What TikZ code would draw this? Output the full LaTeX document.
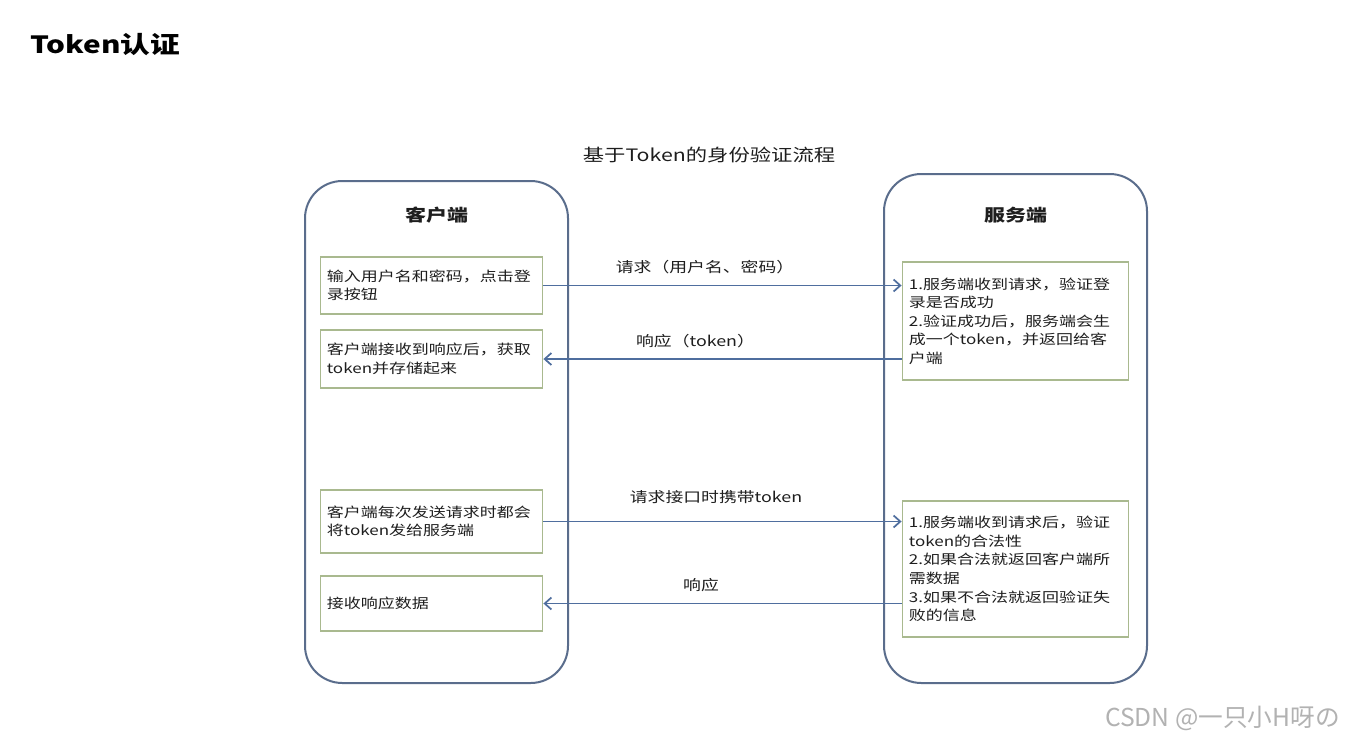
\documentclass[tikz,border=0pt]{standalone}
\usepackage{fontspec}
\setmainfont[FakeStretch=1.25]{Noto Sans CJK SC}
\newfontfamily\wmfont{Noto Sans CJK SC}
\usetikzlibrary{arrows.meta}
\definecolor{frameblue}{HTML}{5A6D8C}
\definecolor{boxgreen}{HTML}{A9B98F}
\definecolor{arrowblue}{HTML}{4F6E9E}
\definecolor{txt}{HTML}{1E1E1E}
\tikzset{
  side/.style={draw=frameblue, line width=1.5pt, rounded corners=28pt},
  stepbox/.style={draw=boxgreen, line width=0.9pt, fill=white, align=left, anchor=center,
    inner sep=5pt, text=txt, font=\fontsize{10.2pt}{13.9pt}\selectfont},
  flow/.style={draw=arrowblue, line width=1.4pt, -{Straight Barb[length=5pt,width=9pt,line width=1.3pt]}},
  flowlabel/.style={text=txt, font=\fontsize{10.7pt}{12pt}\selectfont, inner sep=0pt},
  header/.style={text=txt, font=\fontsize{12.6pt}{14pt}\selectfont\bfseries, inner sep=0pt}
}
\begin{document}
\begin{tikzpicture}[x=0.75pt, y=-0.75pt]
\useasboundingbox[fill=white] (0,0) rectangle (1348,742);

% page title
\node[anchor=west, text=black, inner sep=0pt, font=\fontsize{17.8pt}{20pt}\selectfont\bfseries] (pagetitle) at (30,45) {Token认证};

% diagram title
\node[text=txt, inner sep=0pt, font=\fontsize{12.8pt}{15pt}\selectfont] (dtitle) at (709,155) {基于Token的身份验证流程};

% containers
\draw[side] (305,181) rectangle (568,683);
\draw[side] (884,174) rectangle (1147,683);
\node[header] (clienth) at (436.5,215) {客户端};
\node[header] (serverh) at (1015.5,215) {服务端};

% client boxes
\node[stepbox, minimum width=167pt, minimum height=42.75pt, text width=157pt] (cb1) at (431.5,285.5)
  {输入用户名和密码，点击登\\录按钮};
\node[stepbox, minimum width=167pt, minimum height=43.5pt, text width=157pt] (cb2) at (431.5,359)
  {客户端接收到响应后，获取\\token并存储起来};
\node[stepbox, minimum width=167pt, minimum height=47.25pt, text width=157pt] (cb3) at (431.5,521.5)
  {客户端每次发送请求时都会\\将token发给服务端};
\node[stepbox, minimum width=167pt, minimum height=41.25pt, text width=157pt] (cb4) at (431.5,603.5)
  {接收响应数据};

% server boxes
\node[stepbox, minimum width=170pt, minimum height=88.5pt, text width=160pt] (sb1) at (1015.5,321)
  {1.服务端收到请求，验证登\\录是否成功\\2.验证成功后，服务端会生\\成一个token，并返回给客\\户端};
\node[stepbox, minimum width=170pt, minimum height=102pt, text width=160pt] (sb2) at (1015.5,569)
  {1.服务端收到请求后，验证\\token的合法性\\2.如果合法就返回客户端所\\需数据\\3.如果不合法就返回验证失\\败的信息};

% connectors
\draw[flow] (cb1.east) -- (cb1.east -| sb1.west);
\draw[flow] (sb1.west |- cb2.east) -- (cb2.east);
\draw[flow] (cb3.east) -- (cb3.east -| sb2.west);
\draw[flow] (sb2.west |- cb4.east) -- (cb4.east);

% labels
\node[flowlabel] (l1) at (705,267) {请求（用户名、密码）};
\node[flowlabel] (l2) at (695.5,341) {响应（token）};
\node[flowlabel] (l3) at (716,497) {请求接口时携带token};
\node[flowlabel] (l4) at (701,585) {响应};

% watermark
\node[anchor=east, inner sep=0pt, text=black!30, font=\wmfont\fontsize{18.5pt}{20pt}\selectfont] (wm) at (1340,718) {CSDN @一只小H呀の};
\end{tikzpicture}
\end{document}
